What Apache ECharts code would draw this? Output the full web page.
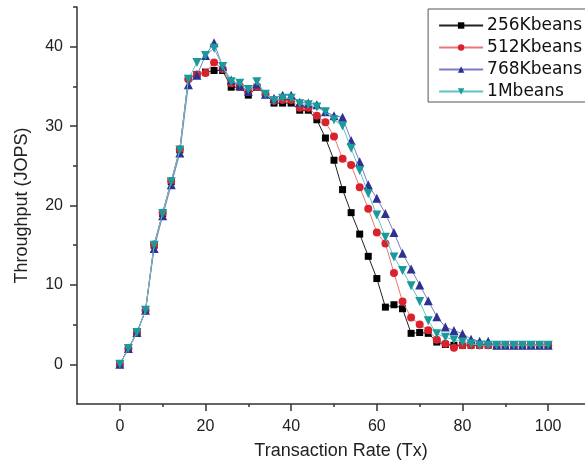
<!DOCTYPE html>
<html>
<head>
<meta charset="utf-8">
<script src="https://cdn.jsdelivr.net/npm/echarts@6/dist/echarts.min.js"></script>
<style>html,body{margin:0;padding:0;background:#fff;}#c{width:585px;height:464px;}</style>
</head>
<body>
<div id="c"></div>
<script>
// Transaction rate (x) values
var txRate = [0,2,4,6,8,10,12,14,16,18,20,22,24,26,28,30,32,34,36,38,40,42,44,46,48,50,52,54,56,58,60,62,64,66,68,70,72,74,76,78,80,82,84,86,88,90,92,94,96,98,100];

var seriesNames = ['256Kbeans', '512Kbeans', '768Kbeans', '1Mbeans'];

var kb256 = [0,2,4,6.8,15.0,19.0,23.0,27.0,36.0,36.5,36.8,37.0,37.0,34.9,34.9,33.9,34.9,34.0,32.9,32.9,32.9,32.0,32.0,30.8,28.5,25.7,22.0,19.1,16.4,13.6,10.8,7.2,7.5,7.0,3.9,4.0,3.9,2.8,2.5,2.4,2.4,2.4,2.4,2.4,2.4,2.4,2.4,2.4,2.4,2.4,2.4];
var kb512 = [0,2,4,6.8,15.1,19.1,23.1,27.1,35.9,36.5,36.7,38.0,37.2,35.4,35.0,34.3,35.0,34.0,33.2,33.3,33.3,32.3,32.3,31.3,30.5,28.7,25.9,25.1,22.3,19.6,16.6,15.2,11.5,7.9,5.9,5.0,4.3,3.1,2.6,2.1,2.4,2.4,2.4,2.4,2.4,2.4,2.4,2.4,2.4,2.4,2.4];
var kb768 = [0,2,4,6.8,14.6,18.7,22.6,26.6,35.2,36.4,38.9,40.5,37.5,35.8,35.1,34.4,35.3,34.0,33.5,33.9,33.9,33.0,32.9,32.7,31.8,31.3,31.1,28.2,25.5,22.6,20.9,19.0,16.6,14.0,12.0,10.0,8.0,6.0,4.7,4.25,3.85,3.15,2.9,2.9,2.4,2.4,2.4,2.4,2.4,2.4,2.4];
var mb1 = [0,2,4,6.8,15.0,19.0,23.0,27.0,35.9,38.0,38.9,39.8,37.5,35.6,35.4,34.6,35.6,34.0,33.2,33.5,33.5,32.8,32.7,32.4,31.8,30.8,30.0,27.2,24.4,21.5,18.8,16.0,13.5,11.8,9.9,7.9,5.5,3.85,3.4,3.1,2.8,2.6,2.4,2.4,2.4,2.4,2.4,2.4,2.4,2.4,2.4];

var xMajorTicks = [0,20,40,60,80,100];
var xMinorTicks = [10,30,50,70,90];
var yMajorTicks = [0,10,20,30,40];
var yMinorTicks = [5,15,25,35,45];

function pairs(ys){ return txRate.map(function(x,i){ return [x, ys[i]]; }); }

var FONT = 'Liberation Sans, Arial, sans-serif';
var AX = '#333';

var markers = ['rect','circle','triangle','path://M0,0 L2,0 L1,1.732 Z'];
var markerColors = ['#000000','#d9222c','#2e3192','#1b9a9c'];
var lineColors = ['#222222','#e8767b','#7a7dc4','#5cc6c6'];
var sizes = [7,8,9,9];
var datas = [kb256, kb512, kb768, mb1];

var series = datas.map(function(d,i){
  return {
    name: seriesNames[i], type: 'line', xAxisIndex: 0, yAxisIndex: 0,
    data: pairs(d), symbol: markers[i], symbolSize: sizes[i],
    showAllSymbol: true,
    itemStyle: {color: markerColors[i], borderWidth: 0},
    lineStyle: {color: lineColors[i], width: 1},
    emphasis: {disabled: true}, animation: false, z: 2 + i
  };
});

var chart = echarts.init(document.getElementById('c'), null, {renderer: 'canvas'});
chart.setOption({
  backgroundColor: '#fff',
  animation: false,
  textStyle: {fontFamily: FONT},
  grid: {left: 77, top: 7, width: 514, bottom: 60, containLabel: false, outerBoundsMode: 'none'},
  legend: {
    orient: 'vertical', right: -37, top: 9,
    padding: [8, 40, 2, 10],
    borderColor: '#555', borderWidth: 1,
    itemWidth: 44, itemHeight: 8, itemGap: 5,
    textStyle: {fontFamily: 'DejaVu Sans, sans-serif', fontSize: 17, color: '#111', lineHeight: 17, padding: [0,0,0,-1]},
    data: seriesNames
  },
  xAxis: [{
    type: 'value', min: -10, max: 110, interval: 10,
    name: 'Transaction Rate (Tx)', nameLocation: 'middle', nameGap: 38,
    nameTextStyle: {fontFamily: FONT, fontSize: 18, color: '#222', padding: [0,0,0,14]},
    axisLine: {show: true, onZero: false, lineStyle: {color: AX, width: 1.5}},
    axisTick: {show: true, customValues: xMajorTicks, length: 7, lineStyle: {color: AX, width: 1.5}},
    axisLabel: {customValues: xMajorTicks, fontFamily: FONT, fontSize: 16, color: '#222', margin: 15},
    splitLine: {show: false}
  }, {
    type: 'value', min: -10, max: 110, interval: 10, position: 'bottom',
    axisLine: {show: false, onZero: false},
    axisTick: {show: true, customValues: xMinorTicks, length: 3, lineStyle: {color: AX, width: 1.5}},
    axisLabel: {show: false},
    splitLine: {show: false}
  }],
  yAxis: [{
    type: 'value', min: -5, max: 45, interval: 5,
    name: 'Throughput (JOPS)', nameLocation: 'middle', nameGap: 46,
    nameTextStyle: {fontFamily: FONT, fontSize: 18, color: '#222'},
    axisLine: {show: true, onZero: false, lineStyle: {color: AX, width: 1.5}},
    axisTick: {show: true, customValues: yMajorTicks, length: 7, lineStyle: {color: AX, width: 1.5}},
    axisLabel: {customValues: yMajorTicks, fontFamily: FONT, fontSize: 16, color: '#222', margin: 14},
    splitLine: {show: false}
  }, {
    type: 'value', min: -5, max: 45, interval: 5, position: 'left',
    axisLine: {show: false, onZero: false},
    axisTick: {show: true, customValues: yMinorTicks, length: 4, lineStyle: {color: AX, width: 1.5}},
    axisLabel: {show: false},
    splitLine: {show: false}
  }],
  series: series
});
</script>
</body>
</html>
